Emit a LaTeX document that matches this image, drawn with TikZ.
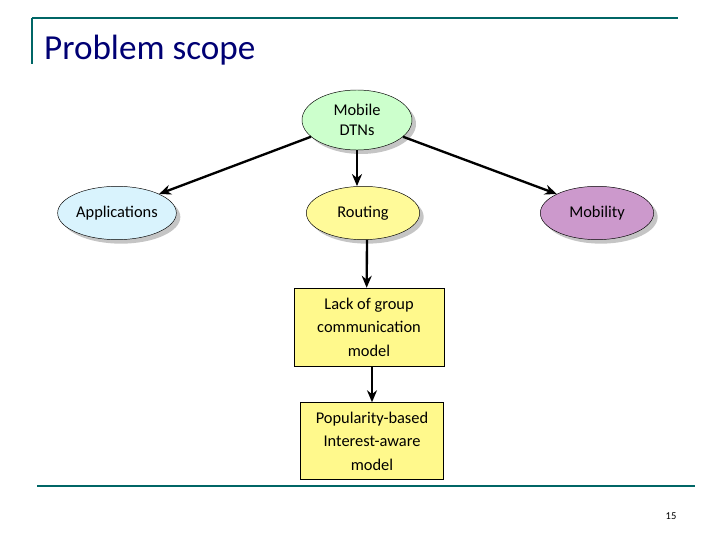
\documentclass[tikz,border=0pt]{standalone}
\usepackage{fontspec}
\setmainfont{Carlito}
\usetikzlibrary{arrows.meta,shapes.geometric,shadows}

\begin{document}
\begin{tikzpicture}[x=0.03cm,y=-0.03cm]
\colorlet{rule line}{teal!80!black}
\tikzset{
     bubble/.style={ellipse, draw, thin, minimum width=3.4cm, minimum height=1.6cm,
        align=center, font=\fontsize{14}{17}\selectfont, inner sep=1pt,
        drop shadow={shadow xshift=1.2mm, shadow yshift=-1.2mm, fill=black!45}},
     card/.style={rectangle, draw, thin, fill=yellow!45, align=center,
        font=\fontsize{14}{20}\selectfont},
     link/.style={-{Stealth[length=3.6mm,width=3mm]}, line width=2pt}}

\useasboundingbox (0,0) rectangle (720,540);

% The header and footer rules
\draw [rule line, line width=1.2pt] (32,18) -- (678,18);
\draw [rule line, line width=1.2pt] (32,18) -- (32,64);
\draw [rule line, line width=1.2pt] (37,486) -- (695,486);
\node (title) [anchor=west, text=blue!45!black, font=\fontsize{30}{34}\selectfont] at (40,50) {Problem scope};
\node (page) [font=\fontsize{9}{10}\selectfont] at (671,516) {15};

% The ellipses
\node (mobile) [bubble, fill=green!20, minimum width=3.3cm, minimum height=1.8cm] at (357,120) {Mobile\\DTNs};
\node (apps)   [bubble, fill=cyan!15] at (117,213) {Applications};
\node (routing)[bubble, fill=yellow!40] at (363,213) {Routing};
\node (mobility)[bubble, fill=violet!40!white] at (597,213) {Mobility};

% The boxes
\node (lack) [card, minimum width=4.5cm, minimum height=2.34cm] at (369,327) {Lack of group\\communication\\model};
\node (pop)  [card, minimum width=4.3cm, minimum height=2.31cm] at (372,441) {Popularity-based\\Interest-aware\\model};

% The arrows
\draw [link] (mobile.200) -- (apps.north east);
\draw [link] (mobile.south) -- (routing.north -| mobile.south);
\draw [link] (mobile.-20) -- (mobility.north west);
\draw [link] (routing.south -| lack.north) ++(-2,0) -- ([xshift=-2pt]lack.north);
\draw [link] (lack.south -| pop.north) -- (pop.north);
\end{tikzpicture}
\end{document}
